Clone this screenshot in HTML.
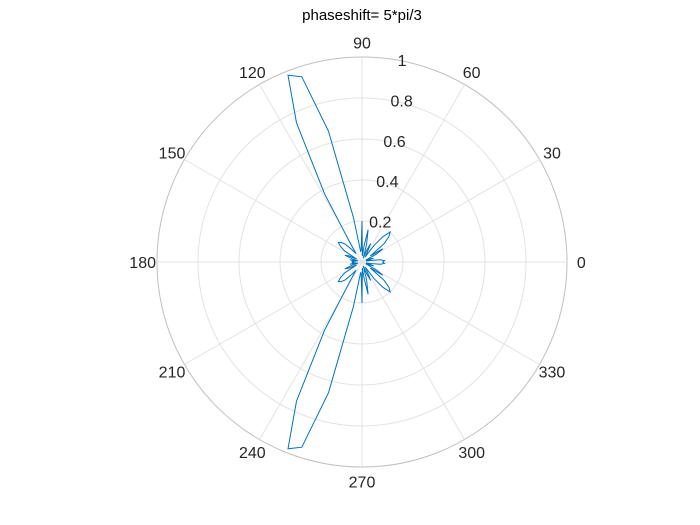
<!DOCTYPE html>
<html><head><meta charset="utf-8"><style>body{margin:0;background:#fff}svg{display:block;font-family:"Liberation Sans",sans-serif}</style></head>
<body>
<svg id="c" width="700" height="525">
<rect width="700" height="525" fill="#fff"/>
<text x="362" y="20" text-anchor="middle" font-size="15" fill="#000">phaseshift= 5*pi/3</text>
<g id="grid"></g><g id="plot"></g><g id="labels"></g>
</svg>
<script>
const thetaTicks=[0,30,60,90,120,150,180,210,240,270,300,330];
const rTicks=[0.2,0.4,0.6,0.8,1];
// angles 0..180 step 3.6 deg, mirrored
const angles=[0,3.6,7.2,10.8,14.4,18,21.6,25.2,28.8,32.4,36,39.6,43.2,46.8,50.4,54,57.6,61.2,64.8,68.4,72,75.6,79.2,82.8,86.4,90,93.6,97.2,100.8,104.4,108,111.6,115.2,118.8,122.4,126,129.6,133.2,136.8,140.4,144,147.6,151.2,154.8,158.4,162,165.6,169.2,172.8,176.4,180];
const radii=[0.1,0.11,0.09,0.04,0.02,0.06,0.04,0.02,0.08,0.12,0.05,0.14,0.18,0.2,0.16,0.1,0.03,0.05,0.1,0.06,0.02,0.09,0.16,0.08,0.03,0.2,0.06,0.05,0.22,0.66,0.95,0.98,0.75,0.38,0.1,0.05,0.08,0.12,0.14,0.15,0.13,0.1,0.03,0.07,0.09,0.05,0.02,0.06,0.04,0.05,0.03];
const cx=362,cy=262,R=205,ns="http://www.w3.org/2000/svg";
function px(t,r){return cx+r*R*Math.cos(t*Math.PI/180);}
function py(t,r){return cy-r*R*Math.sin(t*Math.PI/180);}
const g=document.getElementById('grid'),lab=document.getElementById('labels'),pl=document.getElementById('plot');
rTicks.forEach(r=>{const c=document.createElementNS(ns,'circle');


c.setAttribute('cx',cx);c.setAttribute('cy',cy);c.setAttribute('r',r*R);c.setAttribute('fill','none');c.setAttribute('stroke',r==1?'#bfbfbf':'#e3e3e3');c.setAttribute('stroke-width','1');g.appendChild(c);
const t=document.createElementNS(ns,'text');


t.setAttribute('x',px(80,r));t.setAttribute('y',py(80,r)+6);t.setAttribute('font-size','16');t.setAttribute('fill','#262626');t.textContent=String(r);lab.appendChild(t);});
thetaTicks.forEach(a=>{const l=document.createElementNS(ns,'line');


l.setAttribute('x1',cx);l.setAttribute('y1',cy);l.setAttribute('x2',px(a,1));l.setAttribute('y2',py(a,1));l.setAttribute('stroke','#e3e3e3');g.appendChild(l);
const t=document.createElementNS(ns,'text');


t.setAttribute('x',px(a,1.07));t.setAttribute('y',py(a,1.07)+6);t.setAttribute('text-anchor','middle');t.setAttribute('font-size','16');t.setAttribute('fill','#262626');t.textContent=String(a);lab.appendChild(t);});
let pts=[];
angles.forEach((a,i)=>pts.push([a,radii[i]]));
for(let i=angles.length-2;i>=0;i--)pts.push([360-angles[i],radii[i]]);
const p=document.createElementNS(ns,'polyline');


p.setAttribute('points',pts.map(q=>px(q[0],q[1]).toFixed(1)+','+py(q[0],q[1]).toFixed(1)).join(' '));
p.setAttribute('fill','none');p.setAttribute('stroke','#0072bd');p.setAttribute('stroke-width','1');pl.appendChild(p);
</script>
</body></html>
